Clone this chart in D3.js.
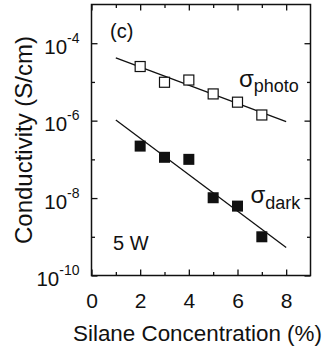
<!DOCTYPE html>
<html>
<head>
<meta charset="utf-8">
<script src="https://cdn.jsdelivr.net/npm/d3@7"></script>
<style>
  body { margin: 0; background: #fff; }
  text { font-family: "Liberation Sans", Arial, Helvetica, sans-serif; fill: #111; }
  .domain { display: none; }
  .tick line { stroke: #111; stroke-width: 1.3; }
</style>
</head>
<body>
<div id="chart"></div>
<script>
// silane concentration (%) of the measured samples
var silane = [2, 3, 4, 5, 6, 7];
// photo conductivity (S/cm), open squares
var sigmaPhoto = [2.5e-5, 9.8e-6, 1.12e-5, 4.9e-6, 3.0e-6, 1.4e-6];
// dark conductivity (S/cm), filled squares
var sigmaDark = [2.2e-7, 1.13e-7, 1.0e-7, 1.02e-8, 6.2e-9, 1.0e-9];
// straight-line fits (endpoints at 1 % and 8 %)
var fitX = [1, 8];
var photoFit = [4.2e-5, 9.4e-7];
var darkFit = [1.04e-6, 5.3e-10];

var xMajor = [0, 2, 4, 6, 8];
var xMinor = [1, 3, 5, 7];
var yMajor = [1e-10, 1e-8, 1e-6, 1e-4];
var yMinor = [1e-9, 1e-7, 1e-5];
var yExps = ["-10", "-8", "-6", "-4"];

var svgWidth = 329;
var svgHeight = 349;

var svg = d3.select("#chart")
    .append("svg")
    .attr("width", svgWidth)
    .attr("height", svgHeight);

var plotLeft = 91.5, plotRight = 310.5, plotTop = 4.5, plotBottom = 275.5;

var x = d3.scaleLinear()
    .domain([0, 9])
    .range([plotLeft, plotRight]);

var y = d3.scaleLog()
    .domain([1e-10, 1e-3])
    .range([plotBottom, plotTop]);

// ticks on all four sides, pointing inward
svg.append("g")
    .attr("transform", `translate(0, ${plotBottom})`)
    .call(d3.axisBottom(x).tickValues(xMajor).tickSize(-6).tickPadding(17.6))
    .selectAll("text")
      .style("font-size", "21px");

svg.append("g")
    .attr("transform", `translate(0, ${plotBottom})`)
    .call(d3.axisBottom(x).tickValues(xMinor).tickSize(-3.5).tickFormat(""));

svg.append("g")
    .attr("transform", `translate(0, ${plotTop})`)
    .call(d3.axisTop(x).tickValues(xMajor).tickSize(-6).tickFormat(""));

svg.append("g")
    .attr("transform", `translate(0, ${plotTop})`)
    .call(d3.axisTop(x).tickValues(xMinor).tickSize(-3.5).tickFormat(""));

var yAxis = svg.append("g")
    .attr("transform", `translate(${plotLeft}, 0)`)
    .call(d3.axisLeft(y).tickValues(yMajor).tickSize(-6).tickPadding(12));

yAxis.selectAll("text")
    .attr("dy", "10px")
    .style("font-size", "20.5px")
    .text("10")
    .append("tspan")
      .attr("dy", "-11px")
      .style("font-size", "14px")
      .text((d, i) => yExps[i]);

svg.append("g")
    .attr("transform", `translate(${plotLeft}, 0)`)
    .call(d3.axisLeft(y).tickValues(yMinor).tickSize(-3.5).tickFormat(""));

svg.append("g")
    .attr("transform", `translate(${plotRight}, 0)`)
    .call(d3.axisRight(y).tickValues(yMajor).tickSize(-6).tickFormat(""));

svg.append("g")
    .attr("transform", `translate(${plotRight}, 0)`)
    .call(d3.axisRight(y).tickValues(yMinor).tickSize(-3.5).tickFormat(""));

// frame
svg.append("rect")
    .attr("x", plotLeft)
    .attr("y", plotTop)
    .attr("width", plotRight - plotLeft)
    .attr("height", plotBottom - plotTop)
    .attr("fill", "none")
    .attr("stroke", "#111")
    .attr("stroke-width", 1.5);

// fit lines
var line = d3.line()
    .x((d, i) => x(fitX[i]))
    .y(d => y(d));

[photoFit, darkFit].forEach((fit) => {
    svg.append("path")
        .datum(fit)
        .attr("d", line)
        .attr("fill", "none")
        .attr("stroke", "#111")
        .attr("stroke-width", 1.3);
});

var openSize = 10;
var fillSize = 11;

svg.append("g").selectAll("rect")
    .data(sigmaPhoto)
    .enter()
    .append("rect")
      .attr("x", (d, i) => x(silane[i]) - openSize / 2)
      .attr("y", d => y(d) - openSize / 2)
      .attr("width", openSize)
      .attr("height", openSize)
      .attr("fill", "#fff")
      .attr("stroke", "#111")
      .attr("stroke-width", 1.2);

svg.append("g").selectAll("rect")
    .data(sigmaDark)
    .enter()
    .append("rect")
      .attr("x", (d, i) => x(silane[i]) - fillSize / 2)
      .attr("y", d => y(d) - fillSize / 2)
      .attr("width", fillSize)
      .attr("height", fillSize)
      .attr("fill", "#111");

// labels
svg.append("text")
    .attr("x", 110)
    .attr("y", 38)
    .style("font-size", "20px")
    .text("(c)");

svg.append("text")
    .attr("x", 113)
    .attr("y", 250)
    .style("font-size", "20px")
    .text("5 W");

var photoLabel = svg.append("text")
    .attr("x", 239)
    .attr("y", 86.5)
    .style("font-size", "24px")
    .text("σ");
photoLabel.append("tspan")
    .attr("dy", "5px")
    .style("font-size", "18px")
    .text("photo");

var darkLabel = svg.append("text")
    .attr("x", 250.5)
    .attr("y", 203.3)
    .style("font-size", "24px")
    .text("σ");
darkLabel.append("tspan")
    .attr("dy", "6px")
    .style("font-size", "18px")
    .text("dark");

svg.append("text")
    .attr("x", 197.5)
    .attr("y", 341)
    .attr("text-anchor", "middle")
    .style("font-size", "22.4px")
    .text("Silane Concentration (%)");

svg.append("text")
    .attr("transform", "translate(31.5, 140) rotate(-90)")
    .attr("text-anchor", "middle")
    .style("font-size", "24px")
    .text("Conductivity (S/cm)");
</script>
</body>
</html>
